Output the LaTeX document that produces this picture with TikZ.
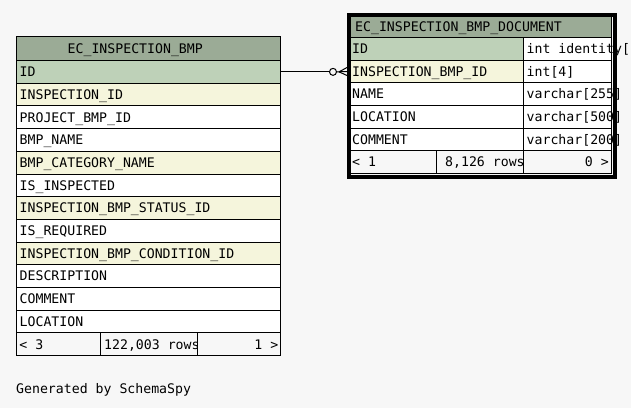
\documentclass[tikz,border=0pt]{standalone}
\usepackage{fontspec}
\newfontfamily\monof{DejaVu Sans Mono}
\definecolor{bgc}{HTML}{F7F7F7}
\definecolor{headc}{HTML}{9BAB96}
\definecolor{pkc}{HTML}{BED1B8}
\definecolor{idxc}{HTML}{F5F5DC}
% #1 name, #2 x, #3 y, #4 width, #5 fill, #6 text shift, #7 text
\newcommand\tcell[7]{%
  \node[cell, fill=#5, minimum width=#4pt] (#1) at (#2,#3) {};
  \node[txt, anchor=west] (#1t) at ([xshift=#6pt]#1.west) {#7};}
% right aligned text
\newcommand\rcell[7]{%
  \node[cell, fill=#5, minimum width=#4pt] (#1) at (#2,#3) {};
  \node[txt, anchor=east] (#1t) at ([xshift=-#6pt]#1.east) {#7};}
\begin{document}
\begin{tikzpicture}[x=1pt,y=-1pt,
  font=\monof\fontsize{13.2}{15}\selectfont,
  cell/.style={draw=black, line width=1pt, rectangle, anchor=north west,
    inner sep=0pt, minimum height=22.7pt},
  txt/.style={inner sep=0pt, text height=9.6pt, text depth=0pt},
  conn/.style={draw=black, line width=1pt}]
\useasboundingbox[fill=bgc] (0,0) rectangle (631,408);

% ---------------- left table ----------------
\node[cell, fill=headc, minimum width=264pt, minimum height=24pt] (lh) at (16,36) {};
\node[txt, anchor=west] (lht) at ([xshift=51.5pt]lh.west) {EC\_INSPECTION\_BMP};
\tcell{l0}{16}{60}{264}{pkc}{3.5}{ID}
\tcell{l1}{16}{82.7}{264}{idxc}{3.5}{INSPECTION\_ID}
\tcell{l2}{16}{105.4}{264}{white}{3.5}{PROJECT\_BMP\_ID}
\tcell{l3}{16}{128.1}{264}{white}{3.5}{BMP\_NAME}
\tcell{l4}{16}{150.8}{264}{idxc}{3.5}{BMP\_CATEGORY\_NAME}
\tcell{l5}{16}{173.5}{264}{white}{3.5}{IS\_INSPECTED}
\tcell{l6}{16}{196.2}{264}{idxc}{3.5}{INSPECTION\_BMP\_STATUS\_ID}
\tcell{l7}{16}{218.9}{264}{white}{3.5}{IS\_REQUIRED}
\tcell{l8}{16}{241.6}{264}{idxc}{3.5}{INSPECTION\_BMP\_CONDITION\_ID}
\tcell{l9}{16}{264.3}{264}{white}{3.5}{DESCRIPTION}
\tcell{l10}{16}{287.0}{264}{white}{3.5}{COMMENT}
\tcell{l11}{16}{309.7}{264}{white}{3.5}{LOCATION}
\tcell{lfa}{16}{332.4}{84}{bgc}{3.3}{< 3}
\tcell{lfb}{100}{332.4}{97}{bgc}{4}{122,003 rows}
\rcell{lfc}{197}{332.4}{83}{bgc}{2.5}{1 >}

% ---------------- right table ----------------
\begin{scope}[cell/.append style={minimum height=22.6pt}]
\node[cell, fill=headc, minimum width=262pt] (rh) at (349,14.5) {};
\node[txt, anchor=west] (rht) at ([xshift=6pt]rh.west) {EC\_INSPECTION\_BMP\_DOCUMENT};
\tcell{r0}{349}{37.1}{174}{pkc}{3}{ID}
\tcell{r0b}{523}{37.1}{88}{white}{3.5}{int identity[}
\tcell{r1}{349}{59.7}{174}{idxc}{3}{INSPECTION\_BMP\_ID}
\tcell{r1b}{523}{59.7}{88}{white}{3.5}{int[4]}
\tcell{r2}{349}{82.3}{174}{white}{3}{NAME}
\tcell{r2b}{523}{82.3}{88}{white}{3.5}{varchar[255]}
\tcell{r3}{349}{104.9}{174}{white}{3}{LOCATION}
\tcell{r3b}{523}{104.9}{88}{white}{3.5}{varchar[500]}
\tcell{r4}{349}{127.5}{174}{white}{3}{COMMENT}
\tcell{r4b}{523}{127.5}{88}{white}{3.5}{varchar[200]}
\tcell{rfa}{349}{150.1}{87}{bgc}{3}{< 1}
\tcell{rfb}{436}{150.1}{87}{bgc}{9}{8,126 rows}
\rcell{rfc}{523}{150.1}{88}{bgc}{3}{0 >}
\end{scope}
\node[draw=black, line width=4pt, rectangle, anchor=north west, inner sep=0pt,
  minimum width=266pt, minimum height=161.5pt] (rframe) at (347,13) {};

% ---------------- connector ----------------
\coordinate (cf) at (rframe.west |- r1.west);
\node[circle, draw=black, line width=1pt, fill=bgc, minimum size=7pt, inner sep=0pt]
  (circ) at ([xshift=52pt]l0.east) {};
\coordinate (cft) at ([xshift=2pt]circ.east);
\draw[conn] (l0.east) -- (circ.west);
\draw[conn] (circ.east) -- (cf);
\draw[conn] (cft) -- ([yshift=4pt]cf);
\draw[conn] (cft) -- ([yshift=-4pt]cf);

% ---------------- footer text ----------------
\node[txt, anchor=west] (gen) at (16,389) {Generated by SchemaSpy};
\end{tikzpicture}
\end{document}
